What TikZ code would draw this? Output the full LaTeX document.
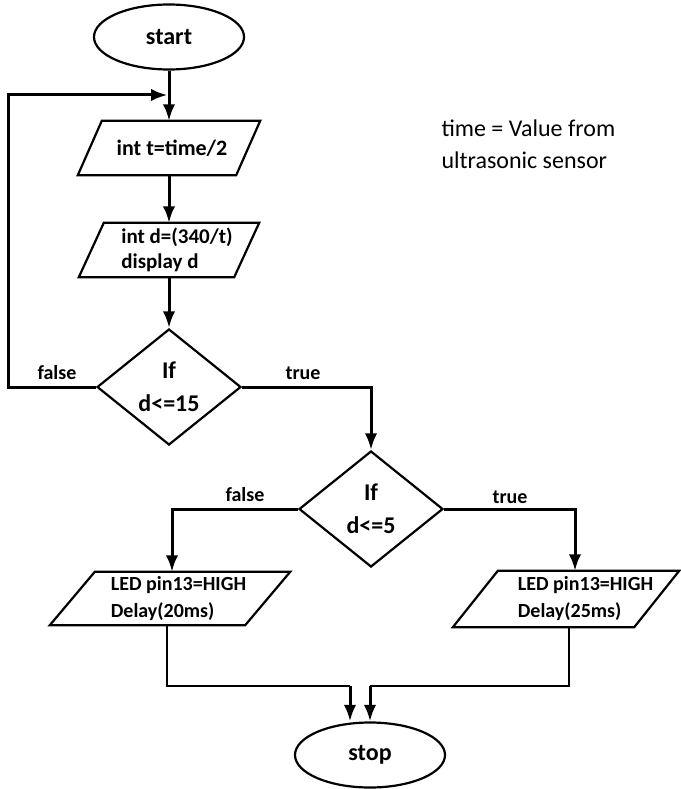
\documentclass[tikz,border=0pt]{standalone}
\usepackage{fontspec}
\setmainfont{Carlito}
\usepackage{tikz}
\usetikzlibrary{arrows.meta,shapes.geometric}

% parallelogram round an io node: name, slant, shift of the outline
\newcommand{\ioshape}[3]{\draw[line width=2.2pt, line join=miter]
  ([xshift=#3]#1.south west) -- ([xshift=#3+#2]#1.north west) --
  ([xshift=#3]#1.north east) -- ([xshift=#3-#2]#1.south east) -- cycle;}

\begin{document}
\begin{tikzpicture}[>=Latex, x=1pt, y=-1pt,
  term/.style={ellipse, draw, line width=2.2pt, inner sep=0pt,
    minimum width=150pt, minimum height=65pt,
    font=\fontsize{24}{28}\selectfont\bfseries},
  io/.style={rectangle, inner sep=0pt, align=left, minimum height=54pt},
  led/.style={io, font=\fontsize{20}{27}\selectfont\bfseries},
  decision/.style={diamond, draw, line width=2.2pt, inner sep=0pt, align=center,
    minimum width=144pt, minimum height=116pt,
    font=\fontsize{24}{33}\selectfont\bfseries},
  lbl/.style={font=\fontsize{20}{24}\selectfont\bfseries},
  flow/.style={->, line width=3pt},
  thinflow/.style={line width=1.8pt}]
\useasboundingbox (0,0) rectangle (680,789);

% column
\node[term] (start) at (169,37) {start};
\node[io, minimum width=182pt, font=\fontsize{22}{26}\selectfont\bfseries] (tcalc) at (172,148) {int t=time/2};
\node[io, minimum width=180pt, font=\fontsize{21}{25}\selectfont\bfseries] (dcalc) at (177,250) {int d=(340/t)\\display d};
\node[decision] (if1) at (169,387) {If\\d<=15};
\node[decision] (if2) at (371,509) {If\\d<=5};
\node[led, minimum width=240pt, minimum height=53pt] (led1) at (178.5,598.5) {LED pin13=HIGH\\Delay(20ms)};
\node[led, minimum width=226pt, minimum height=56pt] (led2) at (585.5,599) {LED pin13=HIGH\\Delay(25ms)};
\node[term] (stop) at (370,755) {stop};

\ioshape{tcalc}{24}{-3}
\ioshape{dcalc}{25}{-8}
\ioshape{led1}{45}{-8.5}
\ioshape{led2}{45}{-19.5}

\node[anchor=west, align=left, font=\fontsize{24}{32}\selectfont] (info) at (438,144) {time = Value from\\ultrasonic sensor};

\coordinate (back) at (8,95);
\coordinate (merge) at (169,95);
\coordinate (inl) at (350,686);
\coordinate (inr) at (370,686);

\draw[flow] (start) -- (start |- tcalc.north);
\draw[flow] (start |- tcalc.south) -- (start |- dcalc.north);
\draw[flow] (start |- dcalc.south) -- (if1);
\draw[flow, shorten >=1.5pt] (if1.west) -| (back) -- (merge);
\draw[flow] (if1.east) -| (if2.north);
\draw[flow] (if2.west) -| ([xshift=-6.5pt]led1.north);
\draw[flow] (if2.east) -| ([xshift=-10.5pt]led2.north);
\draw[thinflow] ([xshift=-11.5pt]led1.south) |- (inl);
\draw[thinflow] ([xshift=-16.5pt]led2.south) |- (inr);
\draw[flow] (inl) -- (inl |- stop.north);
\draw[flow] (inr) -- (stop.north);

\node[lbl] (f1) at (57,373) {false};
\node[lbl] (t1) at (303,373) {true};
\node[lbl] (f2) at (245,495) {false};
\node[lbl] (t2) at (510,497) {true};
\end{tikzpicture}
\end{document}
